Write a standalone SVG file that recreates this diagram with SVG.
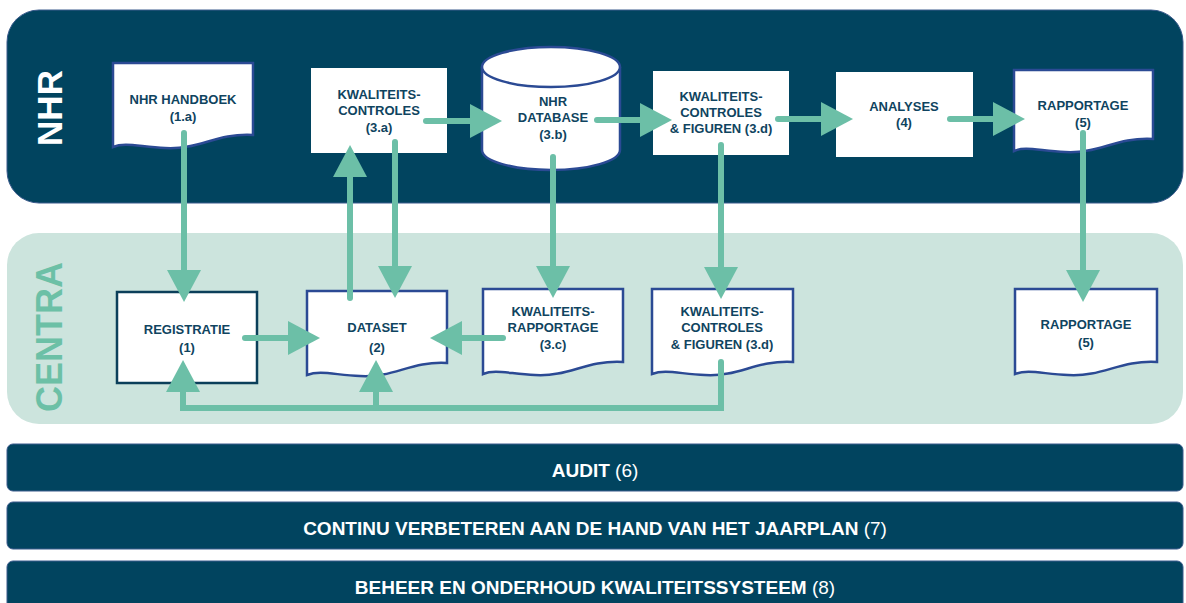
<svg xmlns="http://www.w3.org/2000/svg" width="1186" height="603" viewBox="0 0 1186 603">
<style>
.panel{fill:#01445f;stroke:#3b5a8c;stroke-width:1}
.bar{fill:#01445f;stroke:#3b5a8c;stroke-width:1}
.box{fill:#fff}
.doc{fill:#fff;stroke:#2b4a94;stroke-width:2.5}
.t{font-family:"Liberation Sans",Arial,sans-serif;font-weight:bold;font-size:13px;fill:#0f4460;text-anchor:middle}
.bt{font-family:"Liberation Sans",Arial,sans-serif;font-size:19px;fill:#fff;text-anchor:middle}
.con{fill:none;stroke:#6cbfa7;stroke-width:6;stroke-linecap:round;stroke-linejoin:miter}
</style>
<defs>
<marker id="ah" markerUnits="userSpaceOnUse" viewBox="0 0 32 34" markerWidth="32" markerHeight="34" refX="12" refY="17" orient="auto">
<path d="M0,0 L32,17 L0,34 z" fill="#6cbfa7"/>
</marker>
</defs>
<rect width="1186" height="603" fill="#fff"/>
<g id="panel-nhr">
<rect class="panel" x="7" y="10" width="1176" height="193" rx="32"/>
<text transform="translate(62,108) rotate(-90)" font-family="Liberation Sans,Arial,sans-serif" font-weight="bold" font-size="35" fill="#fff" text-anchor="middle">NHR</text>
</g>
<g id="panel-centra">
<rect x="7" y="233" width="1176" height="191" rx="32" fill="#cce4dd"/>
<text transform="translate(62,337) rotate(-90)" font-family="Liberation Sans,Arial,sans-serif" font-weight="bold" font-size="36" fill="#6cc0a6" text-anchor="middle">CENTRA</text>
</g>
<g id="node-handboek">
<path class="doc" d="M113,63 H253 V135 C215,133 200,150 165,148 C140,147 125,142 113,147 Z"/>
<text class="t" x="183" y="104">NHR HANDBOEK</text>
<text class="t" x="183" y="121">(1.a)</text>
</g>
<g id="node-kc3a">
<rect class="box" x="311" y="68" width="136" height="85"/>
<text class="t" x="379" y="99">KWALITEITS-</text>
<text class="t" x="379" y="115">CONTROLES</text>
<text class="t" x="379" y="132">(3.a)</text>
</g>
<g id="node-database">
<path d="M482,67 V150 A69,20 0 0 0 620,150 V67" fill="#fff" stroke="#2b4a94" stroke-width="2.5"/>
<ellipse cx="551" cy="67" rx="69" ry="20" fill="#fff" stroke="#2b4a94" stroke-width="2.5"/>
<text class="t" x="553" y="106">NHR</text>
<text class="t" x="553" y="122">DATABASE</text>
<text class="t" x="553" y="139">(3.b)</text>
</g>
<g id="node-kc3d-top">
<rect class="box" x="653" y="71" width="136" height="84"/>
<text class="t" x="721" y="101">KWALITEITS-</text>
<text class="t" x="721" y="117">CONTROLES</text>
<text class="t" x="721" y="133">&amp; FIGUREN (3.d)</text>
</g>
<g id="node-analyses">
<rect class="box" x="836" y="72" width="137" height="85"/>
<text class="t" x="904" y="111">ANALYSES</text>
<text class="t" x="904" y="127">(4)</text>
</g>
<g id="node-rapportage-top">
<path class="doc" d="M1014,70 H1153 V139 C1115,137 1100,154 1065,152 C1040,151 1025,146 1014,151 Z"/>
<text class="t" x="1083" y="110">RAPPORTAGE</text>
<text class="t" x="1083" y="127">(5)</text>
</g>
<g id="node-registratie">
<rect x="117" y="292" width="140" height="91" fill="#fff" stroke="#0b3f5a" stroke-width="2.5"/>
<text class="t" x="187" y="334">REGISTRATIE</text>
<text class="t" x="187" y="352">(1)</text>
</g>
<g id="node-dataset">
<path class="doc" d="M307,291 H447 V363 C410,361 395,378 360,376 C335,375 320,370 307,375 Z"/>
<text class="t" x="377" y="332">DATASET</text>
<text class="t" x="377" y="352">(2)</text>
</g>
<g id="node-kwaliteitsrapportage">
<path class="doc" d="M483,289 H623 V362 C585,360 570,377 535,375 C510,374 495,369 483,374 Z"/>
<text class="t" x="553" y="316">KWALITEITS-</text>
<text class="t" x="553" y="332">RAPPORTAGE</text>
<text class="t" x="553" y="349">(3.c)</text>
</g>
<g id="node-kc3d-bottom">
<path class="doc" d="M652,289 H793 V362 C755,360 740,377 705,375 C680,374 665,369 652,374 Z"/>
<text class="t" x="722" y="316">KWALITEITS-</text>
<text class="t" x="722" y="332">CONTROLES</text>
<text class="t" x="722" y="349">&amp; FIGUREN (3.d)</text>
</g>
<g id="node-rapportage-bottom">
<path class="doc" d="M1015,289 H1157 V362 C1119,360 1104,377 1068,375 C1043,374 1028,369 1015,374 Z"/>
<text class="t" x="1086" y="329">RAPPORTAGE</text>
<text class="t" x="1086" y="347">(5)</text>
</g>
<g id="connectors">
<path class="con" d="M426,121 H482" marker-end="url(#ah)"/>
<path class="con" d="M597,120 H652" marker-end="url(#ah)"/>
<path class="con" d="M778,119 H833" marker-end="url(#ah)"/>
<path class="con" d="M950,119 H1005" marker-end="url(#ah)"/>
<path class="con" d="M245,338 H300" marker-end="url(#ah)"/>
<path class="con" d="M503,338 H450" marker-end="url(#ah)"/>
<path class="con" d="M184,133 V282" marker-end="url(#ah)"/>
<path class="con" d="M350,298 V165" marker-end="url(#ah)"/>
<path class="con" d="M395,142 V278" marker-end="url(#ah)"/>
<path class="con" d="M553,157 V278" marker-end="url(#ah)"/>
<path class="con" d="M721,145 V279" marker-end="url(#ah)"/>
<path class="con" d="M1083,133 V282" marker-end="url(#ah)"/>
<path class="con" d="M721,362 V408 H183 V380" marker-end="url(#ah)"/>
<path class="con" d="M376,408 V380" marker-end="url(#ah)"/>
</g>
<g id="bar-audit">
<rect class="bar" x="7" y="444" width="1176" height="47" rx="6"/>
<text class="bt" x="595" y="477"><tspan font-weight="bold">AUDIT</tspan> (6)</text>
</g>
<g id="bar-continu">
<rect class="bar" x="7" y="502" width="1176" height="47" rx="6"/>
<text class="bt" x="595" y="535"><tspan font-weight="bold">CONTINU VERBETEREN AAN DE HAND VAN HET JAARPLAN</tspan> (7)</text>
</g>
<g id="bar-beheer">
<rect class="bar" x="7" y="561" width="1176" height="52" rx="6"/>
<text class="bt" x="595" y="594"><tspan font-weight="bold">BEHEER EN ONDERHOUD KWALITEITSSYSTEEM</tspan> (8)</text>
</g>
</svg>
